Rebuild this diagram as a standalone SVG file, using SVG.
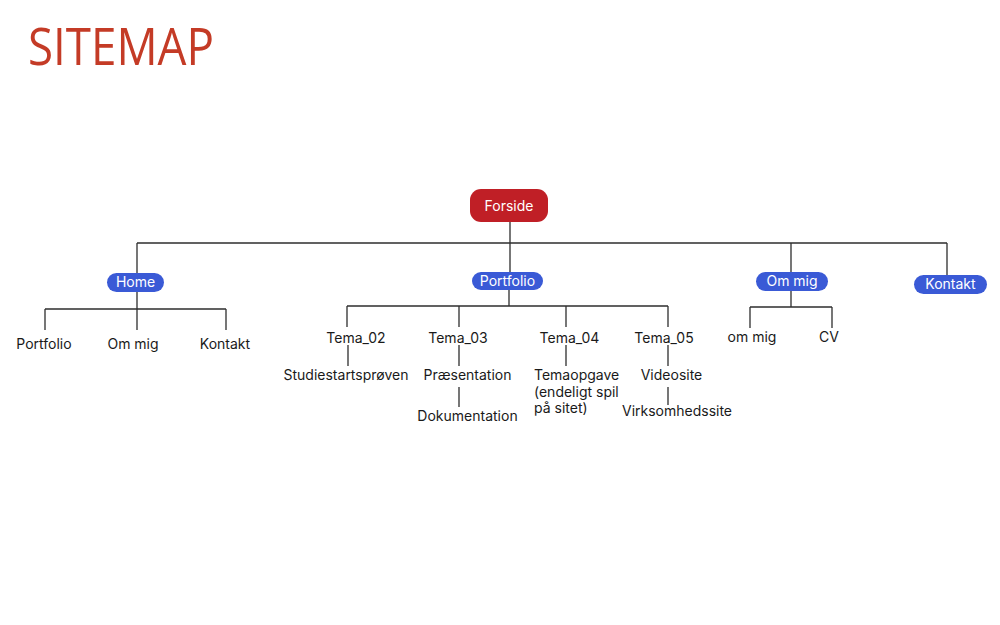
<svg xmlns="http://www.w3.org/2000/svg" width="1000" height="625" viewBox="0 0 1000 625">
<style>
.t{font-family:Inter,"Noto Sans","Liberation Sans",sans-serif;font-size:14px;fill:#1a1a1a;text-anchor:middle}
.w{font-family:Inter,"Noto Sans","Liberation Sans",sans-serif;font-size:14px;fill:#ffffff;text-anchor:middle}
.blue{fill:#3a5ad6}
.red{fill:#c01f26}
.c{stroke:#2e2e2e;stroke-width:1.3;fill:none}
</style>
<rect width="1000" height="625" fill="#ffffff"/>
<text x="28" y="65" font-family="'Open Sans','Liberation Sans',sans-serif" font-size="51" fill="#c43b26" textLength="186" lengthAdjust="spacingAndGlyphs">SITEMAP</text>
<g id="connectors" class="c">
<path d="M510 222V243M137 243H947M137 243V273M510 243V272M791 243V272M947 243V275"/>
<path d="M137 292V309M45 309H226M45 309V330M137 309V330M226 309V330"/>
<path d="M509 290V306M347 306H668M347 306V327M459 306V327M566 306V327M668 306V327"/>
<path d="M348 345V366M459 345V366M459 387V407M566 345V366M668 345V366M668 387V405"/>
<path d="M791 291V307M750 307H832M750 307V328M832 307V328"/>
</g>
<g id="forside"><rect class="red" x="470" y="189" width="78" height="33" rx="11"/><text class="w" x="509" y="211">Forside</text></g>
<g id="home"><rect class="blue" x="107" y="273" width="57" height="19" rx="9.5"/><text class="w" x="135.5" y="287">Home</text></g>
<g id="portfolio"><rect class="blue" x="472" y="272" width="71" height="18" rx="9"/><text class="w" x="507.5" y="286">Portfolio</text></g>
<g id="ommig"><rect class="blue" x="756" y="272" width="72" height="19" rx="9.5"/><text class="w" x="792" y="286">Om mig</text></g>
<g id="kontakt"><rect class="blue" x="914" y="275" width="73" height="19" rx="9.5"/><text class="w" x="950.5" y="289">Kontakt</text></g>
<g id="home-portfolio"><text class="t" x="44" y="349">Portfolio</text></g>
<g id="home-ommig"><text class="t" x="133" y="349">Om mig</text></g>
<g id="home-kontakt"><text class="t" x="225" y="349">Kontakt</text></g>
<g id="tema02"><text class="t" x="356" y="343">Tema_02</text></g>
<g id="studie"><text class="t" x="346" y="380">Studiestartsprøven</text></g>
<g id="tema03"><text class="t" x="458" y="343">Tema_03</text></g>
<g id="praes"><text class="t" x="467.5" y="380">Præsentation</text></g>
<g id="dok"><text class="t" x="467.5" y="421">Dokumentation</text></g>
<g id="tema04"><text class="t" x="569.5" y="343">Tema_04</text></g>
<g id="temaopg"><text class="t" x="534" y="380" style="text-anchor:start">Temaopgave<tspan x="534" dy="16.5">(endeligt spil</tspan><tspan x="534" dy="16.5">på sitet)</tspan></text></g>
<g id="tema05"><text class="t" x="664" y="343">Tema_05</text></g>
<g id="video"><text class="t" x="671.5" y="380">Videosite</text></g>
<g id="virk"><text class="t" x="677" y="416">Virksomhedssite</text></g>
<g id="om-mig-sub"><text class="t" x="752" y="342">om mig</text></g>
<g id="cv"><text class="t" x="829" y="342">CV</text></g>
</svg>
